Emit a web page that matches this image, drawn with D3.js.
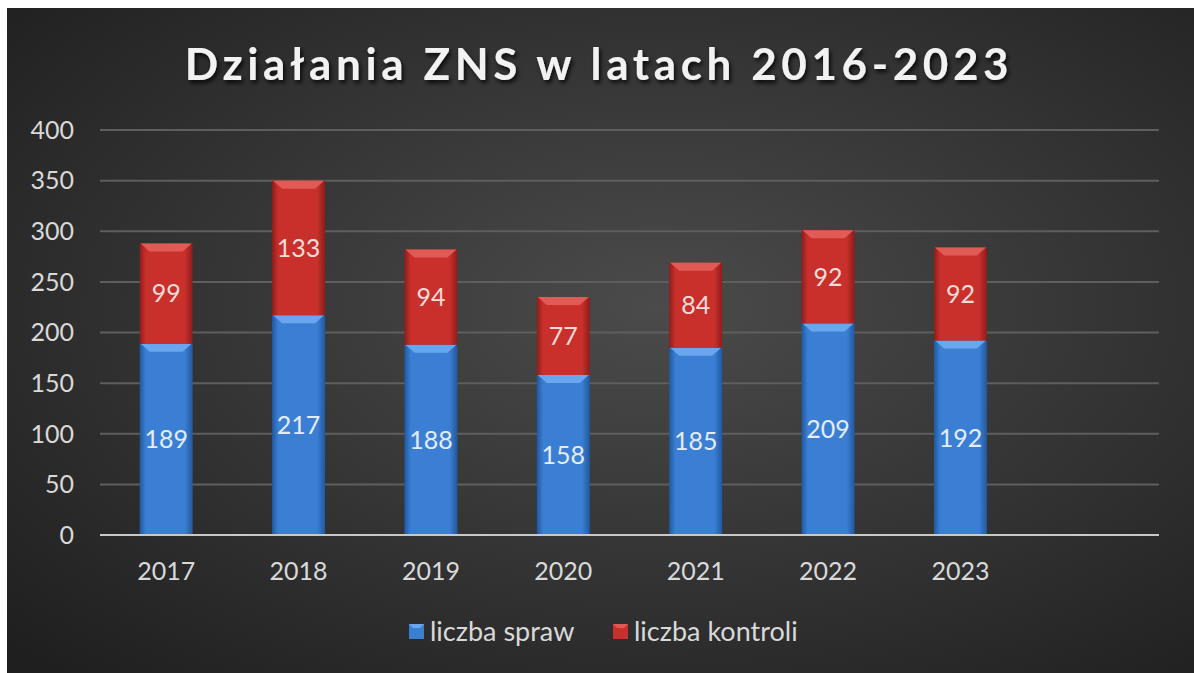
<!DOCTYPE html>
<html>
<head>
<meta charset="utf-8">
<script src="https://cdn.jsdelivr.net/npm/d3@7"></script>
<style>
  html, body { margin: 0; padding: 0; background: #fff; }
  svg { display: block; }
</style>
</head>
<body>
<svg id="chart"></svg>
<script>
var years = ["2017", "2018", "2019", "2020", "2021", "2022", "2023", ""]
var sprawy = [189, 217, 188, 158, 185, 209, 192, null]
var kontrole = [99, 133, 94, 77, 84, 92, 92, null]
var seriesNames = ["liczba spraw", "liczba kontroli"]
var yTicks = [0, 50, 100, 150, 200, 250, 300, 350, 400]

var dimensions = {
    width: 1194,
    height: 673,
    margin: { top: 130, bottom: 138, left: 100, right: 35 }
}

var colors = {
    spraw: { main: "#3b7fd4", light: "#6aa6ee", dark: "#20599f" },
    kontroli: { main: "#c9302c", light: "#e05b55", dark: "#8e1d1a" }
}

var font = "Lato, 'Open Sans', sans-serif"

var svg = d3.select("#chart")
            .attr("width", dimensions.width)
            .attr("height", dimensions.height)

var defs = svg.append("defs")

var bg = defs.append("radialGradient")
             .attr("id", "bg")
             .attr("cx", "55%").attr("cy", "45%").attr("r", "75%")
bg.append("stop").attr("offset", "0%").attr("stop-color", "#4b4b4b")
bg.append("stop").attr("offset", "100%").attr("stop-color", "#1f1f1f")

Object.keys(colors).forEach(k => {
    var g = defs.append("linearGradient").attr("id", "grad-" + k)
                .attr("x1", "0%").attr("x2", "100%").attr("y1", "0%").attr("y2", "0%")
    g.append("stop").attr("offset", "0%").attr("stop-color", colors[k].dark)
    g.append("stop").attr("offset", "12%").attr("stop-color", colors[k].main)
    g.append("stop").attr("offset", "85%").attr("stop-color", colors[k].main)
    g.append("stop").attr("offset", "100%").attr("stop-color", colors[k].dark)
})

var shadow = defs.append("filter").attr("id", "shadow")
                 .attr("x", "-10%").attr("y", "-30%").attr("width", "120%").attr("height", "160%")
shadow.append("feDropShadow").attr("dx", 2).attr("dy", 3).attr("stdDeviation", 2)
      .attr("flood-color", "#000").attr("flood-opacity", 0.8)

// background
svg.append("rect")
   .attr("x", 7).attr("y", 8)
   .attr("width", dimensions.width - 7)
   .attr("height", dimensions.height - 8)
   .attr("fill", "url(#bg)")

var xScale = d3.scaleBand()
               .domain(d3.range(years.length))
               .range([dimensions.margin.left, dimensions.width - dimensions.margin.right])
               .paddingInner(0.6)
               .paddingOuter(0.3)

var yScale = d3.scaleLinear()
               .domain([0, 400])
               .range([dimensions.height - dimensions.margin.bottom, dimensions.margin.top])

// gridlines
svg.append("g")
   .selectAll("line")
   .data(yTicks.filter(d => d > 0))
   .enter()
   .append("line")
   .attr("x1", dimensions.margin.left)
   .attr("x2", dimensions.width - dimensions.margin.right)
   .attr("y1", d => yScale(d))
   .attr("y2", d => yScale(d))
   .attr("stroke", "#5e5e5e")
   .attr("stroke-width", 2)

// y labels
svg.append("g")
   .selectAll("text")
   .data(yTicks)
   .enter()
   .append("text")
   .attr("x", 74)
   .attr("y", d => yScale(d))
   .attr("dy", "0.35em")
   .attr("text-anchor", "end")
   .attr("fill", "#d9d9d9")
   .style("font-family", font)
   .style("font-size", "25px")
   .text(d => d)

var stacked = years.map((y, i) => ({
    i: i,
    segs: sprawy[i] == null ? [] : [
        { key: "spraw", y0: 0, y1: sprawy[i], v: sprawy[i] },
        { key: "kontroli", y0: sprawy[i], y1: sprawy[i] + kontrole[i], v: kontrole[i] }
    ]
}))

var bw = xScale.bandwidth()
var barGroups = svg.append("g")
                   .selectAll("g")
                   .data(stacked)
                   .enter()
                   .append("g")

var segs = barGroups.selectAll("g")
                    .data(d => d.segs.map(s => Object.assign({ i: d.i }, s)))
                    .enter()
                    .append("g")

segs.append("rect")
    .attr("x", d => xScale(d.i))
    .attr("y", d => yScale(d.y1))
    .attr("width", bw)
    .attr("height", d => yScale(d.y0) - yScale(d.y1))
    .attr("fill", d => "url(#grad-" + d.key + ")")

segs.append("polygon")
    .attr("points", d => {
        var x = xScale(d.i), y = yScale(d.y1), b = 8
        return [[x + 1, y], [x + bw - 1, y], [x + bw - b - 2, y + b], [x + b + 2, y + b]].join(" ")
    })
    .attr("fill", d => colors[d.key].light)

segs.append("text")
    .attr("x", d => xScale(d.i) + bw / 2)
    .attr("y", d => (yScale(d.y0) + yScale(d.y1)) / 2)
    .attr("dy", "0.35em")
    .attr("text-anchor", "middle")
    .attr("fill", d => d.key === "spraw" ? "#e4ecf7" : "#f4dcd8")
    .style("font-family", font)
    .style("font-size", "25px")
    .text(d => d.v)

// x axis line
svg.append("line")
   .attr("x1", dimensions.margin.left)
   .attr("x2", dimensions.width - dimensions.margin.right)
   .attr("y1", yScale(0))
   .attr("y2", yScale(0))
   .attr("stroke", "#c8c8c8")
   .attr("stroke-width", 2)

svg.append("g")
   .selectAll("text")
   .data(years)
   .enter()
   .append("text")
   .attr("x", (d, i) => xScale(i) + bw / 2)
   .attr("y", yScale(0) + 45)
   .attr("text-anchor", "middle")
   .attr("fill", "#d9d9d9")
   .style("font-family", font)
   .style("font-size", "25px")
   .text(d => d)

// title
svg.append("text")
   .attr("x", 599)
   .attr("y", 80)
   .attr("text-anchor", "middle")
   .attr("fill", "#f2f2f2")
   .attr("filter", "url(#shadow)")
   .style("font-family", font)
   .style("font-weight", "bold")
   .style("font-size", "44px")
   .style("letter-spacing", "4.6px")
   .text("Działania ZNS w latach 2016-2023")

// legend
var legendX = [409, 613]
var legend = svg.append("g")
                .selectAll("g")
                .data(seriesNames)
                .enter()
                .append("g")
                .attr("transform", (d, i) => `translate(${legendX[i]},632)`)

legend.append("rect")
      .attr("x", 0).attr("y", -8)
      .attr("width", 15).attr("height", 15)
      .attr("fill", (d, i) => colors[i === 0 ? "spraw" : "kontroli"].main)
legend.append("polygon")
      .attr("points", "0,-8 15,-8 11,-4 4,-4")
      .attr("fill", (d, i) => colors[i === 0 ? "spraw" : "kontroli"].light)

legend.append("text")
      .attr("x", 21)
      .attr("dy", "0.35em")
      .attr("fill", "#d9d9d9")
      .style("font-family", font)
      .style("font-size", "27px")
      .text(d => d)
</script>
</body>
</html>
